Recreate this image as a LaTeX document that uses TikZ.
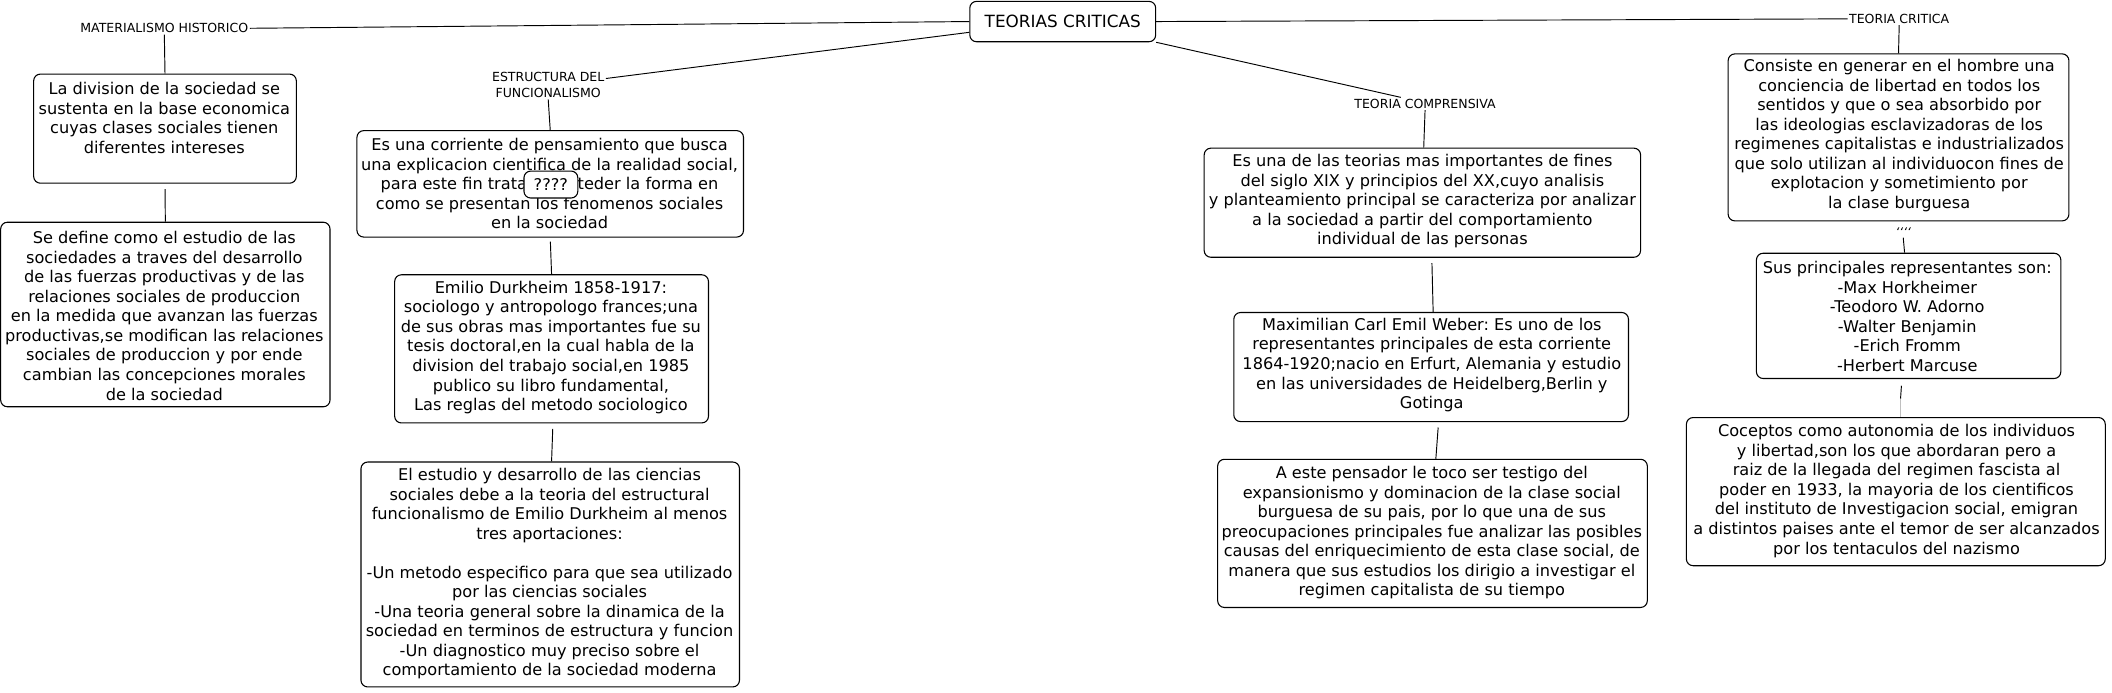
\documentclass[tikz,border=0pt]{standalone}
\usepackage{fontspec}
\setmainfont{DejaVu Sans}
\frenchspacing
\begin{document}
\begin{tikzpicture}[x=1pt,y=-1pt,
  box/.style={draw, rounded corners=5pt, line width=0.8pt, inner sep=0pt},
  txt/.style={align=center, inner sep=0pt, font=\fontsize{12}{14.5}\selectfont},
  lbl/.style={align=center, inner sep=1pt, font=\fontsize{9.3}{12}\selectfont},
  conn/.style={line width=0.7pt}]
\useasboundingbox (0,0) rectangle (1568,514);

% central node
\node[box, minimum width=138pt, minimum height=30pt, font=\fontsize{12.5}{14}\selectfont] (tc) at (789,16) {TEORIAS CRITICAS};

% labels
\node[lbl] (mat) at (122,21) {MATERIALISMO HISTORICO};
\node[lbl] (estr) at (407,63) {ESTRUCTURA DEL\\FUNCIONALISMO};
\node[lbl] (comp) at (1058,77) {TEORIA COMPRENSIVA};
\node[lbl] (crit) at (1410,14) {TEORIA CRITICA};
\node[lbl, font=\fontsize{9}{10}\itshape] (quot) at (1413,172) {‘‘‘‘};

% boxes (left branch)
\node[box, minimum width=195pt, minimum height=81pt] (div) at (122.5,95.5) {};
\node[txt] at (122,87.5) {La division de la sociedad se\\sustenta en la base economica\\cuyas clases sociales tienen\\diferentes intereses};

\node[box, minimum width=244.5pt, minimum height=137pt] (def) at (122.75,233.5) {};
\node[txt] at (122,234.5) {Se define como el estudio de las\\sociedades a traves del desarrollo\\de las fuerzas productivas y de las\\relaciones sociales de produccion\\en la medida que avanzan las fuerzas\\productivas,se modifican las relaciones\\sociales de produccion y por ende\\cambian las concepciones morales\\de la sociedad};

% functionalism branch
\node[box, minimum width=287pt, minimum height=79pt] (corr) at (408.5,136.5) {};
\node[txt] at (408,136.5) {Es una corriente de pensamiento que busca\\una explicacion cientifica de la realidad social,\\para este fin trata de enteder la forma en\\como se presentan los fenomenos sociales\\en la sociedad};
\node[box, fill=white, minimum width=40pt, minimum height=20pt, font=\fontsize{12}{14}\selectfont] (q) at (409,137) {????};

\node[box, minimum width=233pt, minimum height=110pt] (emil) at (409.5,259) {};
\node[txt] at (409,258) {Emilio Durkheim 1858-1917:\\sociologo y antropologo frances;una\\de sus obras mas importantes fue su\\tesis doctoral,en la cual habla de la\\division del trabajo social,en 1985\\publico su libro fundamental,\\Las reglas del metodo sociologico};

\node[box, minimum width=281pt, minimum height=167pt] (est) at (408.5,426.5) {};
\node[txt] at (408,426) {El estudio y desarrollo de las ciencias\\sociales debe a la teoria del estructural\\funcionalismo de Emilio Durkheim al menos\\tres aportaciones:\\[14.5pt]-Un metodo especifico para que sea utilizado\\por las ciencias sociales\\-Una teoria general sobre la dinamica de la\\sociedad en terminos de estructura y funcion\\-Un diagnostico muy preciso sobre el\\comportamiento de la sociedad moderna};

% comprensiva branch
\node[box, minimum width=324pt, minimum height=81pt] (teo) at (1056,150.5) {};
\node[txt] at (1056,149.5) {Es una de las teorias mas importantes de fines\\del siglo XIX y principios del XX,cuyo analisis\\y planteamiento principal se caracteriza por analizar\\a la sociedad a partir del comportamiento\\individual de las personas};

\node[box, minimum width=293pt, minimum height=81pt] (max) at (1062.5,272.5) {};
\node[txt] at (1063,271) {Maximilian Carl Emil Weber: Es uno de los\\representantes principales de esta corriente\\1864-1920;nacio en Erfurt, Alemania y estudio\\en las universidades de Heidelberg,Berlin y\\Gotinga};

\node[box, minimum width=319pt, minimum height=110pt] (pens) at (1063.5,396) {};
\node[txt] at (1063,395.5) {A este pensador le toco ser testigo del\\expansionismo y dominacion de la clase social\\burguesa de su pais, por lo que una de sus\\preocupaciones principales fue analizar las posibles\\causas del enriquecimiento de esta clase social, de\\manera que sus estudios los dirigio a investigar el\\regimen capitalista de su tiempo};

% critica branch
\node[box, minimum width=253pt, minimum height=124pt] (cons) at (1409.5,102) {};
\node[txt] at (1410,100.5) {Consiste en generar en el hombre una\\conciencia de libertad en todos los\\sentidos y que o sea absorbido por\\las ideologias esclavizadoras de los\\regimenes capitalistas e industrializados\\que solo utilizan al individuocon fines de\\explotacion y sometimiento por\\la clase burguesa};

\node[box, minimum width=226pt, minimum height=93pt] (sus) at (1417,234.5) {};
\node[txt] at (1416,235) {Sus principales representantes son:\\-Max Horkheimer\\-Teodoro W. Adorno\\-Walter Benjamin\\-Erich Fromm\\-Herbert Marcuse};

\node[box, minimum width=311pt, minimum height=110pt] (coc) at (1407.5,365) {};
\node[txt] at (1408,364.5) {Coceptos como autonomia de los individuos\\y libertad,son los que abordaran pero a\\raiz de la llegada del regimen fascista al\\poder en 1933, la mayoria de los cientificos\\del instituto de Investigacion social, emigran\\a distintos paises ante el temor de ser alcanzados\\por los tentaculos del nazismo};

\coordinate (gapc) at (1411,296);

% connectors
\draw[conn] (mat.east) -- (tc.west);
\draw[conn] ([yshift=-6pt]estr.north east) -- ([yshift=-8pt]tc.west);
\draw[conn] (tc.south east) -- ([xshift=-18pt]comp.north);
\draw[conn] (tc.east) -- (crit.west);

\draw[conn] (mat.south) -- (div.north);
\draw[conn, shorten <=4pt] (div.south) -- (def.north);
\draw[conn] (estr.south) -- (corr.north);
\draw[conn, shorten <=3pt] (corr.south) -- (emil.north);
\draw[conn, shorten <=4pt] ([xshift=1pt]emil.south) -- ([xshift=1pt]est.north);
\draw[conn] (comp.south) -- ([xshift=1pt]teo.north);
\draw[conn, shorten <=4pt] ([xshift=7pt]teo.south) -- ([xshift=1.5pt]max.north);
\draw[conn, shorten <=4pt] ([xshift=5.5pt]max.south) -- ([xshift=2.5pt]pens.north);
\draw[conn] (crit.south) -- (cons.north);
\draw[conn] (quot.south) -- ([xshift=-3pt]sus.north);
\draw[conn, shorten <=5pt] ([xshift=-5pt]sus.south) -- (gapc);
\draw[line width=0.5pt, black!25] (gapc) -- ([xshift=3.5pt]coc.north);
\end{tikzpicture}
\end{document}
